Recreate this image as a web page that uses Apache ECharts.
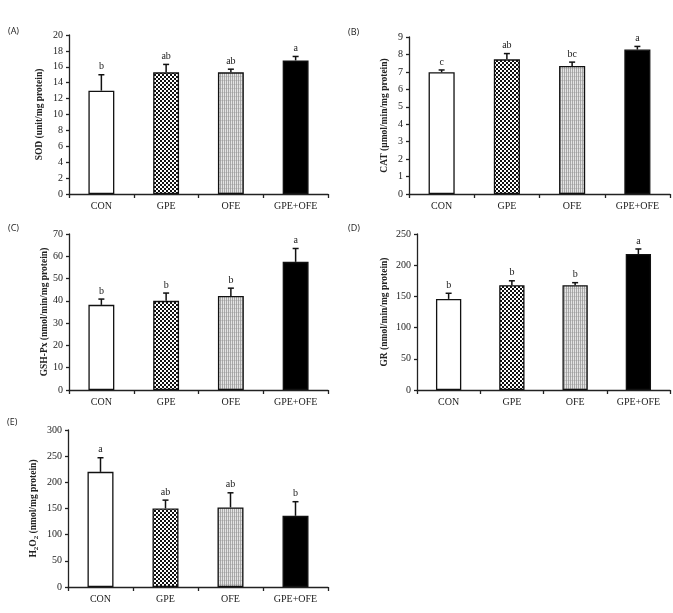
<!DOCTYPE html>
<html lang="en">
<head>
<meta charset="UTF-8">
<title>Antioxidant markers</title>
<style>
    *{
        margin: 0;
        padding: 0;
    }
    body{
        background: #fff;
    }
    #chart{
        width: 673px;
        height: 613px;
    }
</style>
</head>
<body>
<div id="chart"></div>
<script src="https://cdn.jsdelivr.net/npm/echarts@6/dist/echarts.min.js"></script>
<script>
    var groups = ['CON', 'GPE', 'OFE', 'GPE+OFE'];

    // (A) SOD
    var sodMean = [13.0, 15.3, 15.3, 16.8];
    var sodSd = [2.0, 1.0, 0.4, 0.5];
    var sodLetter = ['b', 'ab', 'ab', 'a'];
    var sodTicks = [0, 20, 2];

    // (B) CAT
    var catMean = [6.98, 7.72, 7.34, 8.28];
    var catSd = [0.13, 0.33, 0.22, 0.18];
    var catLetter = ['c', 'ab', 'bc', 'a'];
    var catTicks = [0, 9, 1];

    // (C) GSH-Px
    var gpxMean = [38.2, 40.0, 42.2, 57.5];
    var gpxSd = [2.6, 3.5, 3.5, 6.0];
    var gpxLetter = ['b', 'b', 'b', 'a'];
    var gpxTicks = [0, 70, 10];

    // (D) GR
    var grMean = [146, 168, 168, 218];
    var grSd = [9, 7, 4, 8];
    var grLetter = ['b', 'b', 'b', 'a'];
    var grTicks = [0, 250, 50];

    // (E) H2O2
    var h2o2Mean = [220, 150, 152, 136];
    var h2o2Sd = [27, 16, 28, 27];
    var h2o2Letter = ['a', 'ab', 'ab', 'b'];
    var h2o2Ticks = [0, 300, 50];

    var SERIF = '"Liberation Serif", "DejaVu Serif", serif';

    // bar fills: white, checker, fine vertical stripes, black
    function checker(){
        var c = document.createElement('canvas');
        c.width = 4; c.height = 4;
        var ctx = c.getContext('2d');
        ctx.fillStyle = '#fff';
        ctx.fillRect(0, 0, 4, 4);
        ctx.fillStyle = '#111';
        ctx.fillRect(0, 0, 2, 2);
        ctx.fillRect(2, 2, 2, 2);
        return c;
    }
    function stripes(){
        var c = document.createElement('canvas');
        c.width = 2; c.height = 4;
        var ctx = c.getContext('2d');
        ctx.fillStyle = '#e4e4e4';
        ctx.fillRect(0, 0, 2, 4);
        ctx.fillStyle = '#a8a8a8';
        ctx.fillRect(0, 0, 1, 4);
        ctx.fillStyle = 'rgba(150,150,150,0.35)';
        ctx.fillRect(0, 0, 2, 1);
        return c;
    }
    var fills = ['#fff', {image: checker(), repeat: 'repeat'}, {image: stripes(), repeat: 'repeat'}, '#000'];

    var panels = [
        {tag: '(A)', name: 'SOD (unit/mg protein)', mean: sodMean, sd: sodSd, letter: sodLetter, ticks: sodTicks,
         grid: {left: 69, top: 35, width: 259, height: 159}, gap: 24, lab: [8, 27]},
        {tag: '(B)', name: 'CAT (\u00b5mol/min/mg protein)', mean: catMean, sd: catSd, letter: catLetter, ticks: catTicks,
         grid: {left: 409, top: 37, width: 261, height: 157}, gap: 19, lab: [348, 28]},
        {tag: '(C)', name: 'GSH-Px (nmol/min/mg protein)', mean: gpxMean, sd: gpxSd, letter: gpxLetter, ticks: gpxTicks,
         grid: {left: 69, top: 234, width: 259, height: 156}, gap: 17, lab: [8, 224]},
        {tag: '(D)', name: 'GR (nmol/min/mg protein)', mean: grMean, sd: grSd, letter: grLetter, ticks: grTicks,
         grid: {left: 417, top: 234, width: 253, height: 156}, gap: 27, lab: [348, 224]},
        {tag: '(E)', name: 'H{s|2}O{s|2} (nmol/mg protein)', mean: h2o2Mean, sd: h2o2Sd, letter: h2o2Letter, ticks: h2o2Ticks,
         grid: {left: 68, top: 430, width: 260, height: 157}, gap: 28, lab: [7, 418]}
    ];

    var option = {
        animation: false,
        backgroundColor: '#fff',
        grid: [], xAxis: [], yAxis: [], series: [], graphic: []
    };

    panels.forEach(function(p, k){
        option.grid.push(p.grid);
        option.xAxis.push({
            type: 'category',
            gridIndex: k,
            data: groups,
            axisLine: {lineStyle: {color: '#222', width: 1.3}},
            axisTick: {show: true, length: 4, lineStyle: {color: '#222', width: 1.3}},
            axisLabel: {color: '#222', fontFamily: SERIF, fontSize: 10, margin: 7}
        });
        option.yAxis.push({
            type: 'value',
            gridIndex: k,
            min: p.ticks[0], max: p.ticks[1], interval: p.ticks[2],
            name: p.name,
            nameLocation: 'middle',
            nameGap: p.gap,
            nameTextStyle: {
                color: '#222', fontFamily: SERIF, fontSize: 9.5, fontWeight: 'bold',
                rich: {s: {fontFamily: SERIF, fontSize: 7, fontWeight: 'bold', color: '#222', verticalAlign: 'bottom', lineHeight: 12}}
            },
            splitLine: {show: false},
            axisLine: {show: true, lineStyle: {color: '#222', width: 1.3}},
            axisTick: {show: true, length: 3, lineStyle: {color: '#222', width: 1.3}},
            axisLabel: {color: '#222', fontFamily: SERIF, fontSize: 10, margin: 6}
        });
        option.series.push({
            type: 'bar',
            xAxisIndex: k, yAxisIndex: k,
            barWidth: '40%',
            data: p.mean.map(function(v, i){
                return {value: v, itemStyle: {color: fills[i], borderColor: '#111', borderWidth: 1.3}};
            })
        });
        option.series.push({
            type: 'custom',
            xAxisIndex: k, yAxisIndex: k,
            z: 5,
            data: p.mean.map(function(v, i){ return [i, v, p.sd[i]]; }),
            renderItem: function(params, api){
                var i = api.value(0), m = api.value(1), s = api.value(2);
                var base = api.coord([i, m]);
                var top = api.coord([i, m + s]);
                return {
                    type: 'group',
                    children: [
                        {type: 'line', shape: {x1: base[0], y1: base[1], x2: top[0], y2: top[1]},
                         style: {stroke: '#111', lineWidth: 1.5}},
                        {type: 'line', shape: {x1: top[0] - 3, y1: top[1], x2: top[0] + 3, y2: top[1]},
                         style: {stroke: '#111', lineWidth: 1.5}},
                        {type: 'text', x: top[0], y: top[1] - 3,
                         style: {text: p.letter[params.dataIndex], align: 'center', verticalAlign: 'bottom',
                                 fontFamily: SERIF, fontSize: 10, fill: '#222'}}
                    ]
                };
            }
        });
        option.graphic.push({
            type: 'text', left: p.lab[0], top: p.lab[1],
            style: {text: p.tag, fontFamily: '"Open Sans", sans-serif', fontSize: 9, fill: '#222'}
        });
    });

    var chart = echarts.init(document.getElementById('chart'));
    chart.setOption(option);
</script>
</body>
</html>
